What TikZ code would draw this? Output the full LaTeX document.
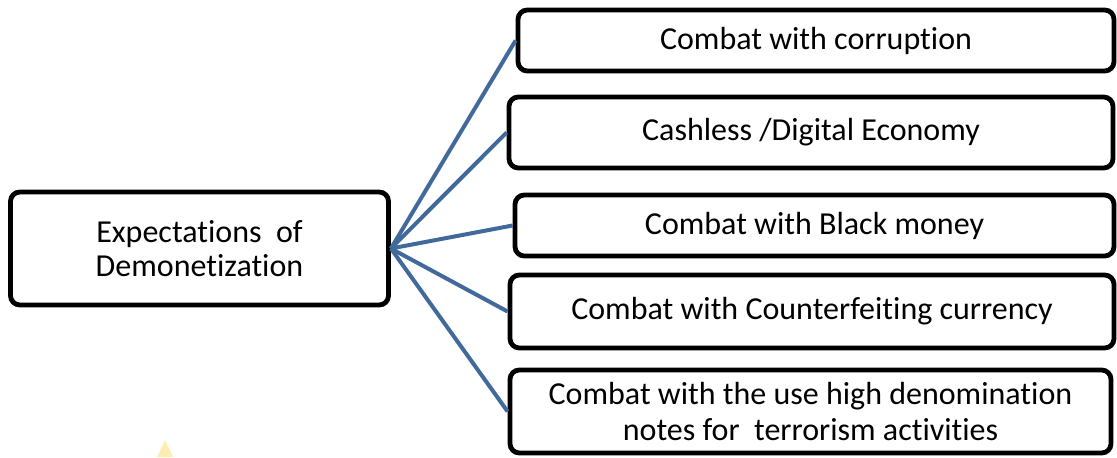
\documentclass[tikz,border=0pt]{standalone}
\usepackage{fontspec}
\setmainfont[Ligatures=CommonOff]{Carlito}
\definecolor{linkblue}{RGB}{65,105,155}
\begin{document}
\begin{tikzpicture}[x=0.75pt,y=-0.75pt,
  box/.style={draw=black,line width=3.6pt,rounded corners=7pt,fill=white,inner sep=0pt,align=center,
    font=\fontsize{24pt}{27.5pt}\selectfont},
  link/.style={draw=linkblue,line width=3pt}]
\useasboundingbox (0,0) rectangle (1117,457);
\fill[yellow!60!orange!50,opacity=0.6] (157,457) -- (165,440) -- (173,457) -- cycle;
\node[box,minimum width=378pt*0.75,minimum height=113pt*0.75,font=\fontsize{24pt}{25pt}\selectfont] (L) at (199.5,248.5) {Expectations~ of\\Demonetization};
\node[box,minimum width=596pt*0.75,minimum height=61pt*0.75] (A) at (816,40.5) {Combat with corruption};
\node[box,minimum width=604pt*0.75,minimum height=71pt*0.75] (B) at (811,132.5) {Cashless /Digital Economy};
\node[box,minimum width=599pt*0.75,minimum height=61pt*0.75] (C) at (814.5,225.5) {Combat with Black money};
\node[box,minimum width=604pt*0.75,minimum height=73pt*0.75] (D) at (812,311.5) {Combat with Counterfeiting currency};
\node[box,minimum width=601pt*0.75,minimum height=83pt*0.75] (E) at (810.5,411.5) {Combat with the use high denomination\\notes for~ terrorism activities};
\foreach \t in {A,B,C,D,E} \draw[link] (L.east) -- (\t.west);
\end{tikzpicture}
\end{document}
